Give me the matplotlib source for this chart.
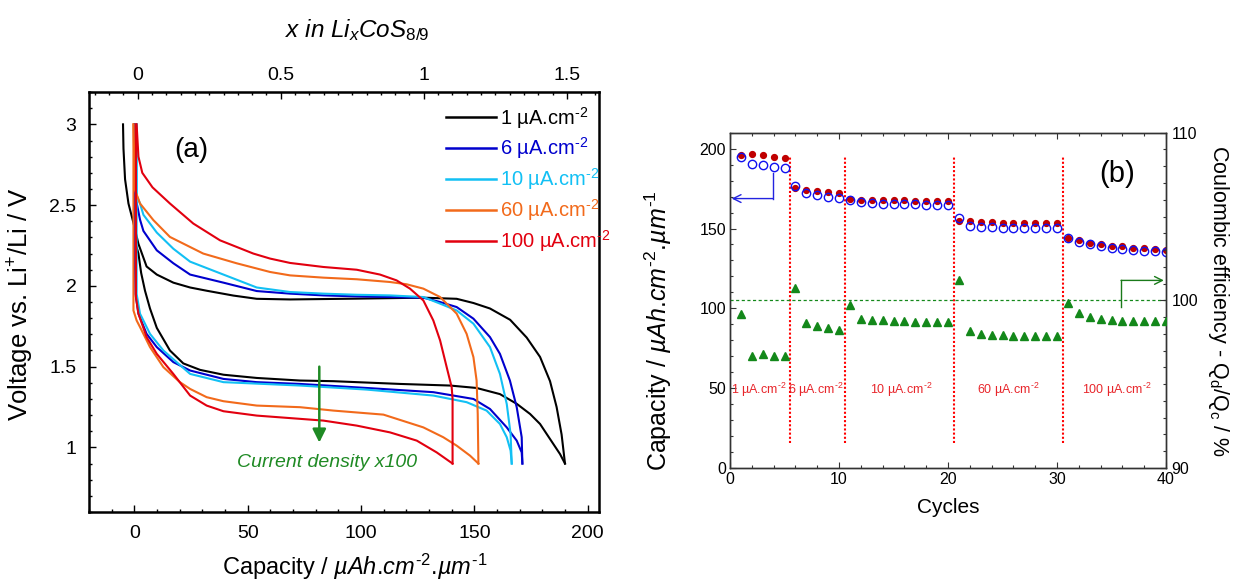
import numpy as np
import matplotlib
matplotlib.use('Agg')
import matplotlib.pyplot as plt
from matplotlib.ticker import MultipleLocator, FixedLocator, FuncFormatter

plt.rcParams['font.family'] = ['Liberation Sans', 'DejaVu Sans']
plt.rcParams['mathtext.fontset'] = 'custom'
plt.rcParams['mathtext.rm'] = 'Liberation Sans'
plt.rcParams['mathtext.it'] = 'Liberation Sans:italic'
plt.rcParams['mathtext.bf'] = 'Liberation Sans:bold'

# ---------------- Panel (a) data: voltage profiles ----------------
current_labels = ['1 µA.cm$^{\\text{-}2}$', '6 µA.cm$^{\\text{-}2}$', '10 µA.cm$^{\\text{-}2}$',
                  '60 µA.cm$^{\\text{-}2}$', '100 µA.cm$^{\\text{-}2}$']
current_colors = ['#000000', '#0000CD', '#12C0F4', '#F26A1B', '#E2000F']

# 1 uA/cm2
dis_1_cap = [0.0, 1.0, 1.8, 3.0, 4.7, 6.9, 9.9, 15.7, 21.6, 29.0, 39.3, 54.0, 73.1, 87.8,
             117.2, 139.3, 151.0, 161.3, 168.7, 174.6, 179.0, 183.4, 187.8, 190.0]
dis_1_v = [2.30, 2.24, 2.20, 2.08, 1.97, 1.86, 1.74, 1.60, 1.52, 1.48, 1.45, 1.43, 1.414, 1.41,
           1.393, 1.383, 1.368, 1.33, 1.27, 1.207, 1.145, 1.052, 0.959, 0.90]
ch_1_cap = [190.0, 188.5, 186.3, 183.4, 179.0, 173.1, 165.8, 156.9, 149.6, 142.2, 127.5, 98.1,
            68.7, 54.0, 43.7, 31.9, 24.6, 17.2, 9.9, 5.4, 1.8, -0.4, -2.6, -4.1, -4.8, -5.0]
ch_1_v = [0.90, 1.08, 1.25, 1.41, 1.56, 1.68, 1.79, 1.86, 1.894, 1.92, 1.927, 1.921,
          1.916, 1.92, 1.94, 1.97, 1.99, 2.02, 2.07, 2.12, 2.26, 2.39, 2.51, 2.66, 2.85, 3.0]

# 6 uA/cm2
dis_6_cap = [0.0, 0.2, 0.5, 1.8, 5.4, 9.9, 17.2, 24.6, 39.3, 54.0, 73.1, 102.5, 131.9,
             149.6, 156.9, 164.3, 168.7, 170.9, 171.2]
dis_6_v = [3.0, 2.2, 1.95, 1.828, 1.703, 1.621, 1.528, 1.476, 1.424, 1.404, 1.393, 1.368,
           1.342, 1.30, 1.238, 1.124, 1.042, 0.969, 0.90]
ch_6_cap = [171.2, 170.9, 168.7, 165.7, 161.3, 156.9, 149.6, 142.2, 134.9, 127.5, 112.8, 98.1,
            83.4, 68.7, 54.0, 39.3, 24.6, 17.2, 9.9, 4.0, 2.5, 0.5, 0.0]
ch_6_v = [0.90, 1.063, 1.249, 1.414, 1.579, 1.683, 1.797, 1.869, 1.90, 1.927, 1.931, 1.935,
          1.941, 1.952, 1.968, 2.02, 2.07, 2.14, 2.22, 2.34, 2.41, 2.55, 3.0]

# 10 uA/cm2
dis_10_cap = [1.0, 1.0, 2.5, 6.9, 12.8, 24.6, 39.3, 73.1, 102.5, 131.9, 146.6, 155.4,
              161.3, 164.3, 166.0, 166.5]
dis_10_v = [3.0, 1.95, 1.828, 1.703, 1.60, 1.455, 1.404, 1.383, 1.358, 1.321, 1.28, 1.228,
            1.145, 1.063, 0.98, 0.90]
ch_10_cap = [166.5, 166.0, 164.3, 161.3, 156.9, 149.6, 142.2, 134.9, 127.5, 112.8, 98.1, 83.4,
             68.7, 54.0, 39.3, 24.6, 17.2, 9.9, 4.0, 2.5, 1.0, 1.0]
ch_10_v = [0.90, 1.083, 1.269, 1.455, 1.621, 1.766, 1.848, 1.89, 1.931, 1.941, 1.945, 1.952,
           1.962, 1.99, 2.07, 2.15, 2.23, 2.33, 2.44, 2.51, 2.56, 3.0]

# 60 uA/cm2
dis_60_cap = [-0.4, -0.4, 1.0, 2.5, 6.9, 12.8, 20.1, 24.6, 31.9, 39.3, 54.0, 73.1, 87.8,
              109.9, 127.5, 136.3, 142.2, 148.1, 151.8]
dis_60_v = [3.0, 1.848, 1.786, 1.745, 1.621, 1.497, 1.404, 1.362, 1.311, 1.286, 1.259, 1.249,
            1.228, 1.203, 1.124, 1.063, 1.011, 0.949, 0.90]
ch_60_cap = [151.8, 151.5, 151.0, 149.6, 146.6, 142.2, 134.9, 127.5, 120.1, 112.8, 98.1, 83.4,
             68.7, 59.9, 45.1, 30.4, 15.7, 8.4, 2.5, 0.3, -0.4]
ch_60_v = [0.90, 1.207, 1.414, 1.559, 1.703, 1.828, 1.931, 1.983, 2.01, 2.024, 2.041, 2.051,
           2.065, 2.086, 2.14, 2.20, 2.303, 2.407, 2.51, 2.593, 3.0]

# 100 uA/cm2
dis_100_cap = [0.7, 0.7, 1.8, 5.4, 9.9, 17.2, 24.6, 31.9, 39.3, 54.0, 83.4, 98.1, 112.8,
               124.6, 133.4, 140.4]
dis_100_v = [3.0, 1.931, 1.828, 1.683, 1.579, 1.455, 1.321, 1.259, 1.224, 1.197, 1.166, 1.135,
             1.093, 1.042, 0.969, 0.90]
ch_100_cap = [140.4, 140.4, 140.0, 137.8, 134.9, 131.9, 127.5, 121.6, 115.7, 108.4, 98.1, 83.4,
              68.7, 59.9, 52.5, 37.8, 26.0, 15.7, 8.0, 3.5, 1.8, 1.0]
ch_100_v = [0.90, 1.30, 1.373, 1.497, 1.662, 1.786, 1.910, 1.983, 2.034, 2.070, 2.10, 2.117,
            2.142, 2.169, 2.20, 2.282, 2.386, 2.51, 2.61, 2.70, 2.80, 3.0]

discharges = [(dis_1_cap, dis_1_v), (dis_6_cap, dis_6_v), (dis_10_cap, dis_10_v),
              (dis_60_cap, dis_60_v), (dis_100_cap, dis_100_v)]
charges = [(ch_1_cap, ch_1_v), (ch_6_cap, ch_6_v), (ch_10_cap, ch_10_v),
           (ch_60_cap, ch_60_v), (ch_100_cap, ch_100_v)]

# conversion capacity -> x in LixCoS8/9
cap_at_x0 = 1.5
cap_per_x = 126.2
x_ticks_top = [0, 0.5, 1, 1.5]

# ---------------- Panel (b) data: rate capability ----------------
cycles = list(range(1, 41))
cap_filled = [196.2, 196.9, 196.0, 195.0, 194.0, 175.2, 174.2, 173.3, 172.7, 172.0,
              168.75, 168.1, 167.9, 167.8, 167.7, 167.6, 167.5, 167.4, 167.4, 167.3,
              155.0, 154.4, 153.9, 153.8, 153.7, 153.6, 153.5, 153.5, 153.4, 153.3,
              144.2, 142.5, 140.8, 140.0, 139.2, 138.75, 138.1, 137.7, 137.1, 136.7]
cap_open = [195.0, 190.4, 189.8, 188.75, 187.9, 176.5, 172.0, 170.8, 169.8, 169.0,
            168.1, 166.5, 166.0, 165.6, 165.5, 165.3, 165.2, 165.0, 165.0, 165.0,
            156.5, 151.7, 151.25, 150.8, 150.6, 150.5, 150.4, 150.3, 150.3, 150.2,
            144.0, 141.7, 140.0, 138.75, 137.9, 137.1, 136.7, 136.0, 135.6, 135.2]
coulombic_eff = [99.2, 96.7, 96.8, 96.7, 96.7, 100.73, 98.65, 98.45, 98.33, 98.26,
                 99.74, 98.9, 98.85, 98.8, 98.77, 98.75, 98.73, 98.72, 98.72, 98.72,
                 101.2, 98.2, 98.0, 97.95, 97.92, 97.9, 97.9, 97.9, 97.88, 97.88,
                 99.84, 99.25, 98.99, 98.89, 98.8, 98.76, 98.76, 98.76, 98.76, 98.76]
step_bounds = [5.5, 10.5, 20.5, 30.5]
step_labels = current_labels
step_label_x = [2.65, 7.9, 15.7, 25.5, 35.5]

cap_label = 'Capacity / $\\mathit{µAh.\\hspace{-0.2}cm^{\\text{-}2}.\\hspace{-0.2}µm^{\\text{-}1}}$'

# ---------------- Figure ----------------
fig = plt.figure(figsize=(12.33, 5.8), dpi=100)

# ===== Panel (a) =====
axa = fig.add_axes([0.0722, 0.1172, 0.4136, 0.7241])
for (dc, dv), (cc, cv), col, lab in zip(discharges, charges, current_colors, current_labels):
    axa.plot(dc, dv, color=col, lw=1.5, zorder=3)
    axa.plot(cc, cv, color=col, lw=1.5, zorder=3, label=lab)

axa.set_xlim(-20, 205)
axa.set_ylim(0.6, 3.2)
axa.xaxis.set_major_locator(FixedLocator([0, 50, 100, 150, 200]))
axa.xaxis.set_minor_locator(MultipleLocator(10))
axa.yaxis.set_major_locator(FixedLocator([1, 1.5, 2, 2.5, 3]))
axa.yaxis.set_minor_locator(MultipleLocator(0.1))
axa.yaxis.set_major_formatter(FuncFormatter(lambda v, p: '%g' % v))
axa.tick_params(which='both', direction='in', top=False, right=False, width=1.0)
axa.tick_params(which='major', length=5, labelsize=14)
axa.tick_params(axis='x', which='major', pad=9)
axa.tick_params(axis='y', which='major', pad=9)
axa.tick_params(which='minor', length=2.5)
for s in axa.spines.values():
    s.set_linewidth(1.8)

axa.set_xlabel(cap_label, fontsize=17)
axa.xaxis.set_label_coords(0.52, -0.094)
axa.set_ylabel('Voltage vs. Li$^{+}$/Li / V', fontsize=18.5)
axa.yaxis.set_label_coords(-0.103, 0.495)

sec = axa.secondary_xaxis('top', functions=(lambda c: (np.asarray(c) - cap_at_x0) / cap_per_x,
                                            lambda x: np.asarray(x) * cap_per_x + cap_at_x0))
sec.xaxis.set_major_locator(FixedLocator(x_ticks_top))
sec.xaxis.set_minor_locator(MultipleLocator(0.05))
sec.xaxis.set_major_formatter(FuncFormatter(lambda v, p: '%g' % v))
sec.tick_params(which='both', direction='in', width=1.0)
sec.tick_params(which='major', length=5, labelsize=14, pad=6)
sec.tick_params(which='minor', length=2.5)
axa.text(0.525, 1.148, '$\\mathit{x\\ in\\ Li_{x}CoS_{8/9}}$', fontsize=17.5,
         ha='center', va='center', transform=axa.transAxes)

leg = axa.legend(loc='upper left', bbox_to_anchor=(0.70, 0.970), frameon=False,
                 fontsize=14.5, handlelength=2.5, handletextpad=0.2, labelspacing=0.25,
                 borderpad=0, borderaxespad=0, labelcolor='linecolor')
for h in leg.get_lines():
    h.set_linewidth(1.8)

axa.text(25.3, 2.84, '(a)', fontsize=20, ha='center', va='center')
green_a = '#1F8A24'
axa.annotate('', xy=(81.6, 1.03), xytext=(81.6, 1.50),
             arrowprops=dict(arrowstyle='-|>', color=green_a, lw=1.8, mutation_scale=20,
                             shrinkA=0, shrinkB=0))
axa.text(84.9, 0.907, 'Current density x100', fontsize=14, color=green_a,
         style='italic', ha='center', va='center')

# ===== Panel (b) =====
axb = fig.add_axes([0.5921, 0.1931, 0.3536, 0.5781])
axb2 = axb.twinx()

red_dot = '#C00000'
blue_c = '#1010F0'
green_b = '#13881A'

axb.plot(cycles, cap_filled, 'o', color=red_dot, ms=4.2, mec=red_dot, zorder=3)
axb.plot(cycles, cap_open, 'o', mfc='none', mec=blue_c, mew=1.0, ms=6.0, zorder=4)
axb2.plot(cycles, coulombic_eff, '^', color=green_b, ms=6.0, zorder=3)

for xb in step_bounds:
    axb.plot([xb, xb], [15.5, 195.5], color='#FF0000', lw=1.5, linestyle=(0, (1, 1)), zorder=2)
for lab, xl in zip(step_labels, step_label_x):
    axb.text(xl, 48.75, lab, color='#E8262B', fontsize=9, ha='center', va='center')

axb2.axhline(100, color=green_b, lw=0.9, linestyle=(0, (2.5, 2)), zorder=1)

# blue arrow -> left axis
axb.plot([3.97, 3.97], [185.0, 168.75], color='#2323E0', lw=1.0)
axb.annotate('', xy=(0.15, 168.75), xytext=(3.97, 168.75),
             arrowprops=dict(arrowstyle='->', color='#2323E0', lw=1.0, mutation_scale=14,
                             shrinkA=0, shrinkB=0))
# green arrow -> right axis
axb2.plot([35.87, 35.87], [99.58, 101.19], color='#1A7A1A', lw=1.0)
axb2.annotate('', xy=(39.8, 101.19), xytext=(35.87, 101.19),
              arrowprops=dict(arrowstyle='->', color='#1A7A1A', lw=1.0, mutation_scale=14,
                              shrinkA=0, shrinkB=0))

axb.text(35.5, 184, '(b)', fontsize=21, ha='center', va='center')

axb.set_xlim(0, 40)
axb.set_ylim(0, 210)
axb2.set_ylim(90, 110)
axb.xaxis.set_major_locator(MultipleLocator(10))
axb.xaxis.set_minor_locator(MultipleLocator(2))
axb.yaxis.set_major_locator(FixedLocator([0, 50, 100, 150, 200]))
axb.yaxis.set_minor_locator(MultipleLocator(10))
axb2.yaxis.set_major_locator(FixedLocator([90, 100, 110]))
axb2.yaxis.set_minor_locator(MultipleLocator(1))

axb.tick_params(which='both', direction='in', top=True, right=False, width=0.8,
                color='#333333')
axb.tick_params(which='major', length=4.5, labelsize=11.5, pad=3)
axb.tick_params(which='minor', length=2.5)
axb2.tick_params(which='both', direction='in', width=0.8, color='#333333')
axb2.tick_params(which='major', length=4.5, labelsize=11.5, pad=4)
axb2.tick_params(which='minor', length=2.5)
for axx in (axb, axb2):
    for s in axx.spines.values():
        s.set_linewidth(1.0)
        s.set_color('#333333')

axb.set_xlabel('Cycles', fontsize=15)
axb.xaxis.set_label_coords(0.5, -0.088)
axb.set_ylabel(cap_label, fontsize=18)
axb.yaxis.set_label_coords(-0.128, 0.41)
axb2.set_ylabel('Coulombic efficiency - Q$_\\mathregular{d}$/Q$_\\mathregular{c}$ / %',
                fontsize=15.5, rotation=270, va='center')
axb2.yaxis.set_label_coords(1.12, 0.5)

fig.savefig('out.png', dpi=100)
